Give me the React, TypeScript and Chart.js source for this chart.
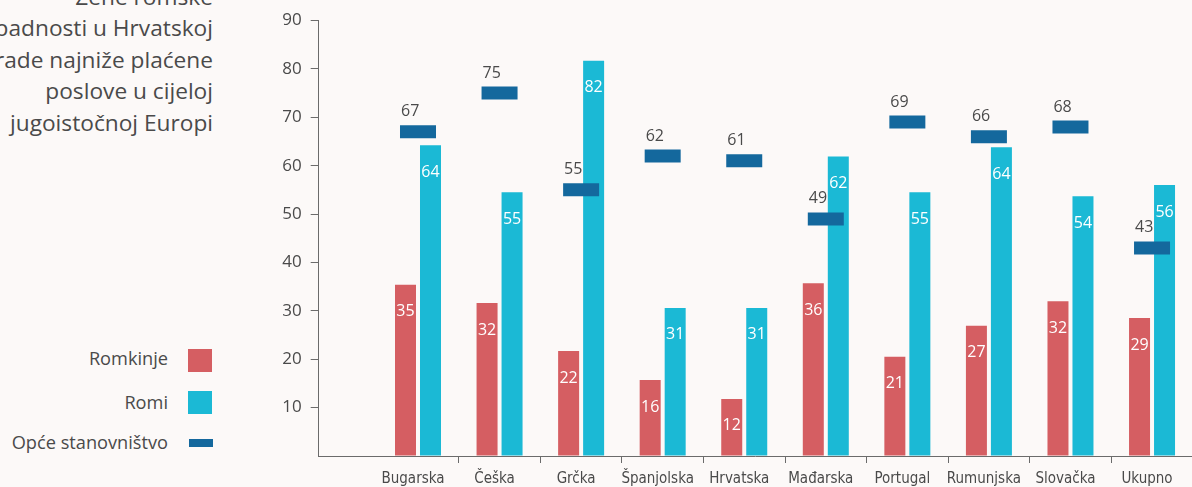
import React, { useEffect, useRef } from 'react';
import { Chart, registerables } from 'chart.js';

Chart.register(...registerables);

// ---- data ----
const categories = ['Bugarska', 'Češka', 'Grčka', 'Španjolska', 'Hrvatska', 'Mađarska', 'Portugal', 'Rumunjska', 'Slovačka', 'Ukupno'];
const romkinje = [35.4, 31.6, 21.7, 15.7, 11.8, 35.7, 20.5, 26.9, 32.0, 28.5];
const romi = [64.2, 54.5, 81.7, 30.6, 30.6, 61.9, 54.5, 63.8, 53.7, 56.0];
const opce = [67, 75, 55, 62, 61, 49, 69, 66, 68, 43];
const yTickValues = [0, 10, 20, 30, 40, 50, 60, 70, 80, 90];
const seriesNames = ['Romkinje', 'Romi', 'Opće stanovništvo'];
const titleLines = ['Žene romske', 'nacionalne pripadnosti u Hrvatskoj', 'rade najniže plaćene', 'poslove u cijeloj', 'jugoistočnoj Europi'];

const RED = '#d55e62';
const CYAN = '#1bb9d5';
const NAVY = '#14689d';
const TEXT = '#4a4a4a';
const AXIS = '#6b6b6b';
const BG = '#fcf9f8';

const valueLabels = {
  id: 'valueLabels',
  afterDatasetsDraw(chart: any) {
    const ctx = chart.ctx;
    ctx.save();
    ctx.font = '16px "Open Sans"';
    ctx.textBaseline = 'middle';
    [0, 1].forEach((di) => {
      const meta = chart.getDatasetMeta(di);
      meta.data.forEach((el: any, i: number) => {
        const v = chart.data.datasets[di].data[i].y;
        ctx.fillStyle = '#ffffff';
        ctx.textAlign = 'center';
        ctx.fillText(String(Math.round(v)), el.x, el.y + 27);
      });
    });
    const m2 = chart.getDatasetMeta(2);
    m2.data.forEach((el: any, i: number) => {
      const v = chart.data.datasets[2].data[i].y;
      ctx.fillStyle = TEXT;
      ctx.textAlign = 'left';
      ctx.fillText(String(v), el.x - 17, el.y - 20);
    });
    ctx.restore();
  },
};

export default function App() {
  const canvasRef = useRef<HTMLCanvasElement | null>(null);

  useEffect(() => {
    const canvas = canvasRef.current;
    if (!canvas) return;
    const chart = new Chart(canvas, {
      type: 'bar',
      data: {
        datasets: [
          {
            label: seriesNames[0],
            data: romkinje.map((v, i) => ({ x: i, y: v })),
            backgroundColor: RED,
            categoryPercentage: 0.613,
            barPercentage: 0.84,
          },
          {
            label: seriesNames[1],
            data: romi.map((v, i) => ({ x: i, y: v })),
            backgroundColor: CYAN,
            categoryPercentage: 0.613,
            barPercentage: 0.84,
          },
          {
            type: 'line',
            label: seriesNames[2],
            data: opce.map((v, i) => ({ x: i, y: v })),
            showLine: false,
            pointStyle: 'line',
            pointRadius: 18,
            pointHoverRadius: 18,
            pointBorderWidth: 13,
            pointHoverBorderWidth: 13,
            pointBorderColor: NAVY,
            pointBackgroundColor: NAVY,
            clip: false,
            order: -1,
          } as any,
        ],
      },
      options: {
        responsive: false,
        animation: false,
        devicePixelRatio: 1,
        layout: { autoPadding: false, padding: { left: 0, right: 0, top: 20.5, bottom: 0 } },
        plugins: {
          legend: { display: false },
          title: { display: false },
          tooltip: { enabled: false },
        },
        events: [],
        scales: {
          x: {
            type: 'linear',
            offset: false,
            bounds: 'data',
            min: -1.2175,
            max: 9.49,
            afterBuildTicks: (scale: any) => {
              const ints = categories.map((_, i) => ({ value: i }));
              const halves = categories.slice(1).map((_, i) => ({ value: i + 0.5 }));
              scale.ticks = [...ints, ...halves];
            },
            afterFit: (scale: any) => {
              scale.height = 31;
              scale.paddingLeft = 0;
              scale.paddingRight = 0;
            },
            grid: {
              offset: false,
              drawOnChartArea: false,
              tickLength: 7,
              tickWidth: 1,
              tickColor: (ctx: any) =>
                ctx.tick && Number.isInteger(ctx.tick.value) ? 'rgba(0,0,0,0)' : AXIS,
            },
            border: { display: true, color: AXIS, width: 1 },
            ticks: {
              autoSkip: false,
              maxRotation: 0,
              minRotation: 0,
              padding: 7,
              labelOffset: -5,
              color: TEXT,
              font: { family: '"DejaVu Sans Condensed"', size: 15 },
              callback: (value: any) =>
                Number.isInteger(value) ? categories[value] : '',
            },
          },
          y: {
            type: 'linear',
            min: 0,
            max: 90,
            afterBuildTicks: (scale: any) => {
              scale.ticks = yTickValues.map((v) => ({ value: v }));
            },
            afterFit: (scale: any) => {
              scale.width = 318.7;
              scale.paddingTop = 0;
              scale.paddingBottom = 0;
            },
            grid: {
              drawOnChartArea: false,
              tickLength: 8,
              tickWidth: 1,
              tickColor: (ctx: any) =>
                ctx.tick && ctx.tick.value === 0 ? 'rgba(0,0,0,0)' : AXIS,
            },
            border: { display: true, color: AXIS, width: 1 },
            ticks: {
              padding: 9,
              color: TEXT,
              font: { family: '"Open Sans"', size: 17 },
              callback: (value: any) => (value === 0 ? '' : String(value)),
            },
          },
        },
      },
      plugins: [valueLabels],
    } as any);
    return () => chart.destroy();
  }, []);

  const legendItems = [
    { name: seriesNames[0], color: RED, cy: 358, swTop: 349, swH: 23, swLeft: 188 },
    { name: seriesNames[1], color: CYAN, cy: 402, swTop: 391, swH: 23, swLeft: 188 },
    { name: seriesNames[2], color: NAVY, cy: 442, swTop: 439, swH: 8, swLeft: 189 },
  ];

  return (
    <div
      style={{
        position: 'absolute',
        left: 0,
        top: 0,
        width: 1192,
        height: 487,
        overflow: 'hidden',
        background: BG,
        fontFamily: '"Open Sans", sans-serif',
      }}
    >
      <div
        style={{
          position: 'absolute',
          left: -400,
          width: 613,
          top: -19.5,
          textAlign: 'right',
          fontSize: 22.7,
          lineHeight: '31.5px',
          color: TEXT,
          whiteSpace: 'nowrap',
        }}
      >
        {titleLines.map((l, i) => (
          <div key={i}>{l}</div>
        ))}
      </div>
      {legendItems.map((it, i) => (
        <React.Fragment key={i}>
          <div
            style={{
              position: 'absolute',
              left: 0,
              width: 168,
              top: it.cy - 12,
              height: 24,
              lineHeight: '24px',
              textAlign: 'right',
              fontSize: 18.2,
              color: TEXT,
              whiteSpace: 'nowrap',
            }}
          >
            {it.name}
          </div>
          <div
            style={{
              position: 'absolute',
              left: it.swLeft,
              top: it.swTop,
              width: 24,
              height: it.swH,
              background: it.color,
            }}
          />
        </React.Fragment>
      ))}
      <canvas
        ref={canvasRef}
        width={1192}
        height={487}
        style={{ position: 'absolute', left: 0, top: 0, width: 1192, height: 487 }}
      />
    </div>
  );
}
